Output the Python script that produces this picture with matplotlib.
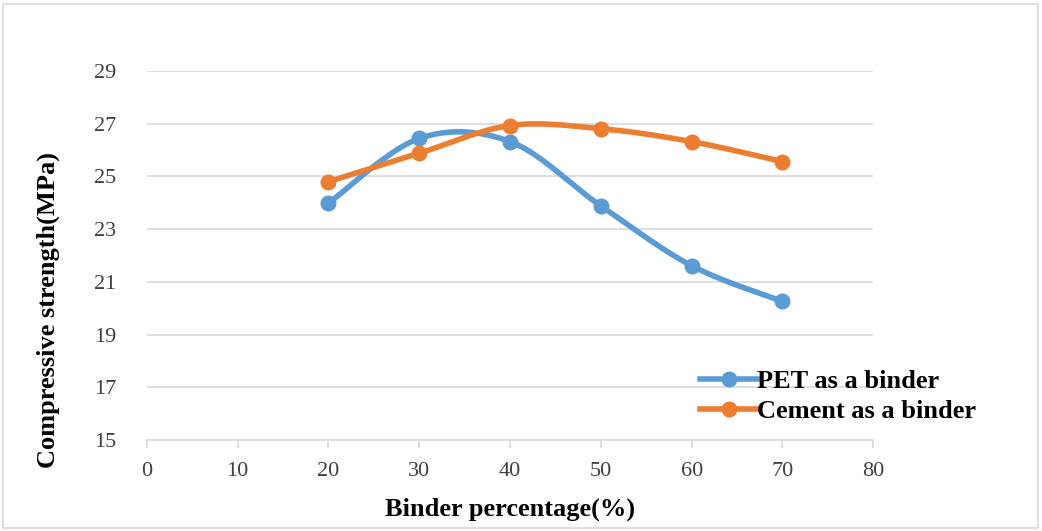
import numpy as np
import matplotlib.pyplot as plt
from matplotlib.patches import Rectangle

binder_pct = [20, 30, 40, 50, 60, 70]
pet_strength = [23.98, 26.44, 26.32, 23.88, 21.61, 20.26]
cement_strength = [24.80, 25.88, 26.93, 26.81, 26.32, 25.56]


def smooth(x, y, n=40):
    # Excel-style smoothed line: cubic Bezier with Catmull-Rom control points
    x = np.asarray(x, float)
    y = np.asarray(y, float)
    px = np.concatenate([[x[0]], x, [x[-1]]])
    py = np.concatenate([[y[0]], y, [y[-1]]])
    t = np.linspace(0, 1, n)
    xs, ys = [], []
    for i in range(1, len(px) - 2):
        p0 = np.array([px[i], py[i]])
        p3 = np.array([px[i + 1], py[i + 1]])
        c1 = p0 + (np.array([px[i + 1], py[i + 1]]) - np.array([px[i - 1], py[i - 1]])) / 6
        c2 = p3 - (np.array([px[i + 2], py[i + 2]]) - np.array([px[i], py[i]])) / 6
        b = ((1 - t) ** 3)[:, None] * p0 + (3 * (1 - t) ** 2 * t)[:, None] * c1 \
            + (3 * (1 - t) * t ** 2)[:, None] * c2 + (t ** 3)[:, None] * p3
        xs.append(b[:, 0])
        ys.append(b[:, 1])
    return np.concatenate(xs), np.concatenate(ys)


plt.rcParams['font.family'] = 'Liberation Serif'

fig = plt.figure(figsize=(10.42, 5.31), dpi=100)
ax = fig.add_axes([0.141, 0.1714, 0.697, 0.695])

blue = '#5B9BD5'
orange = '#ED7D31'
lw = 4.0
ms = 10.5

sx, sy = smooth(binder_pct, pet_strength)
ax.plot(sx, sy, color=blue, lw=lw, solid_capstyle='round', zorder=3)
ax.plot(binder_pct, pet_strength, 'o', color=blue, ms=ms, zorder=4)
sx, sy = smooth(binder_pct, cement_strength)
ax.plot(sx, sy, color=orange, lw=lw, solid_capstyle='round', zorder=3)
ax.plot(binder_pct, cement_strength, 'o', color=orange, ms=ms, zorder=4)

# legend proxies
h1, = ax.plot([], [], '-o', color=blue, lw=lw, ms=ms, label='PET as a binder')
h2, = ax.plot([], [], '-o', color=orange, lw=lw, ms=ms, label='Cement as a binder')
fig.legend(handles=[h1, h2], loc='center left', bbox_to_anchor=(0.672, 0.254),
           frameon=False, handlelength=2.15, handletextpad=0.0, labelspacing=0.25,
           borderpad=0, borderaxespad=0, prop={'weight': 'bold', 'size': 19})

ax.set_xlim(0, 80)
ax.set_ylim(15, 29)
ax.set_xticks(range(0, 81, 10))
ax.set_yticks(range(15, 30, 2))
ax.grid(axis='y', color='#d9d9d9', lw=1.2)
ax.set_axisbelow(True)
for s in ['left', 'right', 'top']:
    ax.spines[s].set_visible(False)
ax.spines['bottom'].set_color('#d9d9d9')
ax.spines['bottom'].set_linewidth(1.2)
ax.tick_params(axis='x', colors='#d9d9d9', length=6, width=1.2, pad=10, labelsize=16,
               labelcolor='#404040')
ax.tick_params(axis='y', length=0, pad=22, labelsize=16, labelcolor='#404040')

ax.set_xlabel('Binder percentage(%)', fontsize=19, fontweight='bold', labelpad=12)
ax.set_ylabel('Compressive strength(MPa)', fontsize=19, fontweight='bold', va='center')
ax.yaxis.set_label_coords(-0.136, 0.352)

fig.patches.append(Rectangle((0.003, 0.006), 0.993, 0.986, transform=fig.transFigure,
                             fill=False, edgecolor='#d9d9d9', lw=1.2))

plt.savefig('out.png')
